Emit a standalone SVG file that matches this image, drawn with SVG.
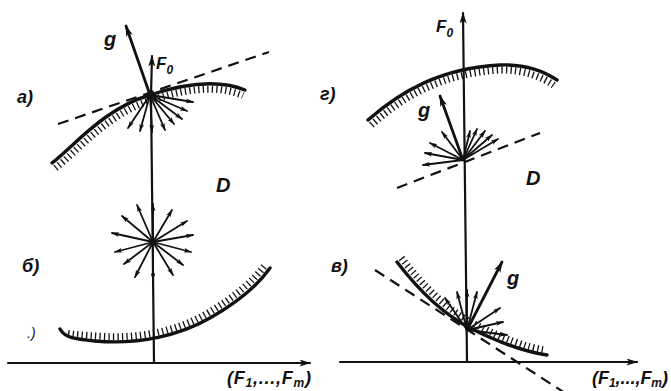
<svg xmlns="http://www.w3.org/2000/svg" width="671" height="391" viewBox="0 0 671 391">
<style>
.ln{stroke:#111;fill:none;stroke-linecap:round}
.ax{stroke-width:2.2}
.cv{stroke-width:3.4}
.ht{stroke-width:7;stroke-dasharray:1.3 3.2;stroke-linecap:butt}
.ds{stroke-width:2.2;stroke-dasharray:11 7;stroke-linecap:butt}
.sa{stroke-width:1.8;marker-end:url(#hs)}
.ga{stroke-width:2.8;marker-end:url(#hl)}
.axa{marker-end:url(#hl)}
text{font-family:"Liberation Sans","DejaVu Sans",sans-serif;font-style:italic;fill:#111}
.lb{font-size:18px;font-weight:bold}
.big{font-size:20px;font-weight:bold}
.sub{font-size:12px}
.ax-l{font-size:18px;font-weight:bold}
</style>
<defs>
<marker id="hs" viewBox="0 0 10 6" refX="9" refY="3" markerWidth="8" markerHeight="5" markerUnits="userSpaceOnUse" orient="auto"><path d="M0,0 L10,3 L0,6 L2.5,3 z" fill="#111"/></marker>
<marker id="hl" viewBox="0 0 10 6" refX="9" refY="3" markerWidth="12" markerHeight="7" markerUnits="userSpaceOnUse" orient="auto"><path d="M0,0 L10,3 L0,6 L2.5,3 z" fill="#111"/></marker>
</defs>
<rect width="671" height="391" fill="#fff"/>

<g id="constraints">
  <g id="curve-a">
    <path class="ln cv" d="M52,163 C75,145 105,108 150,95 C180,85 215,78 245,90"/>
    <path class="ln ht" d="M55.5,168 C78,150.5 108,113.5 152,100 C182,90.5 214,83.5 243,95.5"/>
  </g>
  <g id="curve-b">
    <path class="ln cv" d="M60,329 C65,338 75,339 95,341 C140,345 180,335 210,318 C238,302 258,285 270,268"/>
    <path class="ln ht" d="M68,333.5 C80,335 88,335.5 96,336 C140,339.5 178,330.5 207,313.5 C234,297.5 253,281.5 265.5,264.5"/>
  </g>
  <g id="curve-g">
    <path class="ln cv" d="M368,120 C400,92 440,68 500,65 C525,64 545,72 557,80"/>
    <path class="ln ht" d="M371.5,125 C402,97.5 441,73.5 500,70 C524,69.5 543,77.5 554,85.5"/>
  </g>
  <g id="curve-v">
    <path class="ln cv" d="M397,262 C420,292 445,315 470,328 C500,343 525,352 547,355"/>
    <path class="ln ht" d="M401.5,258 C424.5,287.5 448.5,310.5 472.5,323 C501.5,338 526,347 545,350"/>
  </g>
</g>

<g id="tangents">
  <path class="ln ds" d="M58,124 L269,52"/>
  <path class="ln ds" d="M397,188 L540,133"/>
  <path class="ln ds" d="M375,270 L565,393"/>
</g>

<g id="connectors">
  <g id="axes-left">
    <path class="ln ax axa" d="M8,363 L310,363"/>
    <path class="ln ax" d="M154,363 L151,95"/>
    <path class="ln ax axa" d="M151,95 L152,56"/>
  </g>
  <g id="axes-right">
    <path class="ln ax axa" d="M340,362 L637,362"/>
    <path class="ln ax axa" d="M467,362 L463,13"/>
  </g>
  <g id="fan-a">
    <path class="ln ga" d="M150,95 L126,26"/>
    <path class="ln sa" d="M150,95 L128,128"/>
    <path class="ln sa" d="M150,95 L140,131"/>
    <path class="ln sa" d="M150,95 L152,132"/>
    <path class="ln sa" d="M150,95 L165,130"/>
    <path class="ln sa" d="M150,95 L174,124"/>
    <path class="ln sa" d="M150,95 L182,119"/>
    <path class="ln sa" d="M150,95 L187,111"/>
    <path class="ln sa" d="M150,95 L193,102"/>
  </g>
  <g id="star-b">
    <path class="ln sa" d="M153,242 L153,204"/>
    <path class="ln sa" d="M153,242 L137,205"/>
    <path class="ln sa" d="M153,242 L122,216"/>
    <path class="ln sa" d="M153,242 L112,233"/>
    <path class="ln sa" d="M153,242 L115,252"/>
    <path class="ln sa" d="M153,242 L124,264"/>
    <path class="ln sa" d="M153,242 L135,277"/>
    <path class="ln sa" d="M153,242 L153,280"/>
    <path class="ln sa" d="M153,242 L173,275"/>
    <path class="ln sa" d="M153,242 L183,265"/>
    <path class="ln sa" d="M153,242 L191,252"/>
    <path class="ln sa" d="M153,242 L193,235"/>
    <path class="ln sa" d="M153,242 L187,221"/>
    <path class="ln sa" d="M153,242 L172,210"/>
  </g>
  <g id="fan-g">
    <path class="ln ga" d="M463,160 L440,96"/>
    <path class="ln sa" d="M463,160 L423,165"/>
    <path class="ln sa" d="M463,160 L425,153"/>
    <path class="ln sa" d="M463,160 L430,143"/>
    <path class="ln sa" d="M463,160 L442,132"/>
    <path class="ln sa" d="M463,160 L470,131"/>
    <path class="ln sa" d="M463,160 L477,129"/>
    <path class="ln sa" d="M463,160 L485,131"/>
    <path class="ln sa" d="M463,160 L492,135"/>
    <path class="ln sa" d="M463,160 L498,139"/>
  </g>
  <g id="fan-v">
    <path class="ln ga" d="M467,330 L502,262"/>
    <path class="ln sa" d="M467,330 L445,298"/>
    <path class="ln sa" d="M467,330 L457,292"/>
    <path class="ln sa" d="M467,330 L467,290"/>
    <path class="ln sa" d="M467,330 L477,292"/>
    <path class="ln sa" d="M467,330 L500,308"/>
    <path class="ln sa" d="M467,330 L503,322"/>
    <path class="ln sa" d="M467,330 L507,335"/>
  </g>
</g>

<g id="labels">
  <text class="lb" x="17" y="103">а)</text>
  <text class="lb" x="22" y="272">б)</text>
  <text x="27" y="338" font-size="14" fill="#555">.)</text>
  <text class="lb" x="320" y="100">г)</text>
  <text class="lb" x="331" y="272">в)</text>
  <text class="big" x="104" y="46">g</text>
  <text class="big" x="418" y="117">g</text>
  <text class="big" x="507" y="285">g</text>
  <text x="156" y="69" font-size="17" font-weight="bold">F<tspan class="sub" dy="5">0</tspan></text>
  <text x="436" y="32" font-size="17" font-weight="bold">F<tspan class="sub" dy="5">0</tspan></text>
  <text class="big" x="216" y="192">D</text>
  <text class="big" x="526" y="185">D</text>
  <text class="ax-l" x="227" y="384" textLength="84" lengthAdjust="spacing">(F<tspan class="sub" dy="3">1</tspan><tspan dy="-3">,...,F</tspan><tspan class="sub" dy="3">m</tspan><tspan dy="-3">)</tspan></text>
  <text class="ax-l" x="592" y="384" textLength="76" lengthAdjust="spacing">(F<tspan class="sub" dy="3">1</tspan><tspan dy="-3">,...,F</tspan><tspan class="sub" dy="3">m</tspan><tspan dy="-3">)</tspan></text>
</g>
</svg>
